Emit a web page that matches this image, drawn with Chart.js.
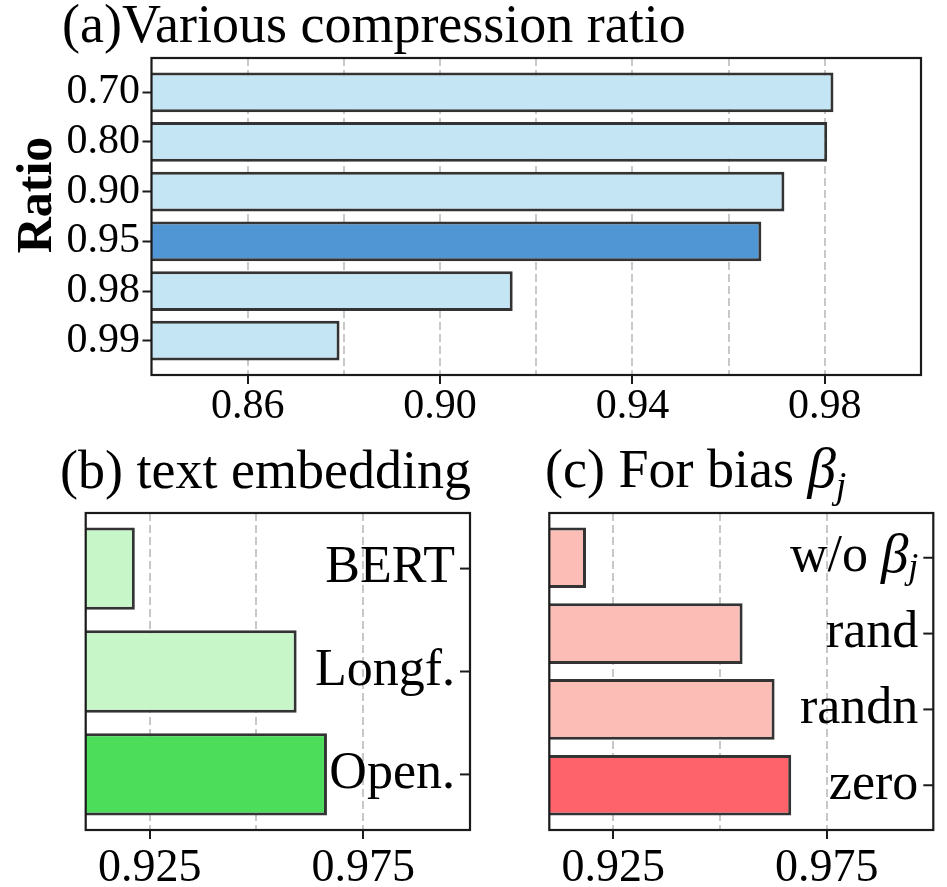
<!DOCTYPE html>
<html>
<head>
<meta charset="utf-8">
<script src="https://cdn.jsdelivr.net/npm/chart.js@4.4.0/dist/chart.umd.min.js"></script>
<style>
  html, body { margin: 0; padding: 0; background: #fff; }
  #page { position: relative; width: 947px; height: 887px; }
  .panel { position: absolute; }
</style>
</head>
<body>
<div id="page">
  <div class="panel" style="left:0;top:0"><canvas id="ratioChart" width="947" height="440"></canvas></div>
  <div class="panel" style="left:0;top:440px"><canvas id="embedChart" width="480" height="447"></canvas></div>
  <div class="panel" style="left:480px;top:440px"><canvas id="biasChart" width="467" height="447"></canvas></div>
</div>
<script>
// (a) compression ratio
const ratioLabels = ['0.70', '0.80', '0.90', '0.95', '0.98', '0.99'];
const ratioScores = [0.9818, 0.9805, 0.9716, 0.9668, 0.9151, 0.8791];
const ratioHighlight = '0.95';
const ratioGridTicks = [0.86, 0.88, 0.90, 0.92, 0.94, 0.96, 0.98];
const ratioLabelTicks = [0.86, 0.90, 0.94, 0.98];

// (b) text embedding
const embedLabels = ['BERT', 'Longf.', 'Open.'];
const embedScores = [0.9215, 0.9594, 0.9665];
const embedHighlight = 'Open.';

// (c) bias init
const biasLabels = ['w/o β_j', 'rand', 'randn', 'zero'];
const biasScores = [0.9186, 0.9553, 0.9628, 0.9667];
const biasHighlight = 'zero';

const ablGridTicks = [0.925, 0.95, 0.975];
const ablLabelTicks = [0.925, 0.975];

const SERIF = '"Liberation Serif", "Times New Roman", serif';
const INK = '#1a1a1a';

// split "β_j" style text into plain / italic / subscript pieces
function richParts(text, size) {
    const parts = [];
    let buf = '';
    const flush = () => { if (buf) parts.push({t: buf, f: size + 'px ' + SERIF, dy: 0}); buf = ''; };
    for (let i = 0; i < text.length; i++) {
        const ch = text[i];
        if (ch === 'β') {
            flush();
            parts.push({t: ch, f: 'italic ' + Math.round(size * 1.05) + 'px ' + SERIF, dy: 0});
        } else if (ch === '_') {
            flush();
            parts.push({t: text[i + 1], f: 'italic ' + Math.round(size * 0.7) + 'px ' + SERIF, dy: size * 0.2});
            i++;
        } else {
            buf += ch;
        }
    }
    flush();
    return parts;
}

function drawRich(ctx, text, size, x, y, align) {
    const parts = richParts(text, size);
    let total = 0;
    parts.forEach(p => { ctx.font = p.f; p.w = ctx.measureText(p.t).width; total += p.w; });
    let cx = align === 'right' ? x - total : x;
    ctx.textAlign = 'left';
    parts.forEach(p => { ctx.font = p.f; ctx.fillText(p.t, cx, y + p.dy); cx += p.w; });
}

const panelDecor = {
    id: 'panelDecor',
    afterDraw(chart, args, opts) {
        const {ctx, chartArea: a} = chart;
        ctx.save();
        ctx.fillStyle = '#000';
        ctx.textBaseline = 'alphabetic';
        drawRich(ctx, opts.title, 54, opts.titleX, opts.titleY, 'left');

        if (opts.yTitle) {
            ctx.save();
            ctx.translate(opts.yTitleX, opts.yTitleY);
            ctx.rotate(-Math.PI / 2);
            ctx.font = 'bold 50px ' + SERIF;
            ctx.textAlign = 'center';
            ctx.fillText(opts.yTitle, 0, 0);
            ctx.restore();
        }

        if (opts.sideLabels) {
            const ys = chart.scales.y;
            ctx.strokeStyle = INK;
            ctx.lineWidth = 2;
            ctx.textBaseline = 'middle';
            opts.sideLabels.forEach((lab, i) => {
                const py = ys.getPixelForValue(i);
                ctx.beginPath();
                ctx.moveTo(a.right - 10, py);
                ctx.lineTo(a.right, py);
                ctx.stroke();
                drawRich(ctx, lab, 52, a.right - 15, py, 'right');
            });
        }

        ctx.strokeStyle = INK;
        ctx.lineWidth = 2.2;
        ctx.strokeRect(a.left, a.top, a.right - a.left, a.bottom - a.top);
        ctx.restore();
    }
};

function barPanel(id, cfg) {
    const n = cfg.labels.length;
    const pad = 0.4 + 0.05 * (n - 0.2);
    const yScale = {
        type: 'linear',
        position: cfg.sideLabels ? 'right' : 'left',
        min: -pad,
        max: n - 1 + pad,
        reverse: true,
        offset: false,
        afterBuildTicks: s => { s.ticks = cfg.labels.map((_, i) => ({value: i})); },
        afterFit: s => { s.width = cfg.yAxisWidth; },
        border: {display: false},
        grid: {offset: false, drawOnChartArea: false, drawTicks: !cfg.sideLabels, tickLength: 9, tickWidth: 2, tickColor: INK},
        ticks: {
            display: !cfg.sideLabels,
            autoSkip: false,
            color: '#000',
            padding: 2.5,
            font: {family: SERIF, size: cfg.tickSize},
            callback: v => cfg.labels[v]
        }
    };
    return new Chart(document.getElementById(id), {
        type: 'bar',
        data: {
            datasets: [{
                data: cfg.labels.map((l, i) => ({x: cfg.scores[i], y: i})),
                backgroundColor: cfg.labels.map(l => l === cfg.highlight ? cfg.strong : cfg.soft),
                borderColor: '#333',
                borderWidth: 3,
                base: cfg.xMin,
                barPercentage: 0.8,
                categoryPercentage: 1
            }]
        },
        options: {
            indexAxis: 'y',
            responsive: false,
            animation: false,
            layout: {padding: cfg.padding},
            plugins: {
                legend: {display: false},
                tooltip: {enabled: false},
                panelDecor: {
                    title: cfg.title, titleX: cfg.titleX, titleY: cfg.titleY,
                    yTitle: cfg.yTitle, yTitleX: 51, yTitleY: 195,
                    sideLabels: cfg.sideLabels ? cfg.labels : null
                }
            },
            scales: {
                x: {
                    type: 'linear',
                    position: 'bottom',
                    min: cfg.xMin,
                    max: cfg.xMax,
                    z: 1,
                    afterBuildTicks: s => { s.ticks = cfg.gridTicks.map(v => ({value: v})); },
                    afterFit: s => { s.height = cfg.xAxisHeight; },
                    border: {display: false, dash: [8, 4]},
                    grid: {
                        color: 'rgba(190,190,190,0.85)',
                        lineWidth: 2,
                        tickLength: 9,
                        tickWidth: 2,
                        tickBorderDash: [],
                        tickColor: c => cfg.labelTicks.includes(c.tick.value) ? INK : 'rgba(0,0,0,0)'
                    },
                    ticks: {
                        autoSkip: false,
                        maxRotation: 0,
                        color: '#000',
                        padding: cfg.xPad,
                        font: {family: SERIF, size: cfg.xTickSize},
                        callback: v => cfg.labelTicks.includes(v) ? v.toFixed(cfg.digits) : ''
                    }
                },
                y: yScale
            }
        },
        plugins: [panelDecor]
    });
}

barPanel('ratioChart', {
    labels: ratioLabels, scores: ratioScores, highlight: ratioHighlight,
    soft: '#c3e5f4', strong: '#5096d4',
    xMin: 0.84, xMax: 1.0, gridTicks: ratioGridTicks, labelTicks: ratioLabelTicks, digits: 2,
    title: '(a)Various compression ratio', titleX: 62, titleY: 42,
    yTitle: 'Ratio',
    padding: {left: 0, top: 58, right: 26, bottom: 0},
    yAxisWidth: 151.5, xAxisHeight: 65, tickSize: 42, xTickSize: 42, xPad: -2
});

barPanel('embedChart', {
    labels: embedLabels, scores: embedScores, highlight: embedHighlight,
    soft: '#c7f6c9', strong: '#4cdd5b',
    xMin: 0.91, xMax: 1.0, gridTicks: ablGridTicks, labelTicks: ablLabelTicks, digits: 3,
    title: '(b) text embedding', titleX: 60, titleY: 48,
    sideLabels: true,
    padding: {left: 85.7, top: 73, right: 0, bottom: 0},
    yAxisWidth: 10, xAxisHeight: 57, tickSize: 52, xTickSize: 46, xPad: 2
});

barPanel('biasChart', {
    labels: biasLabels, scores: biasScores, highlight: biasHighlight,
    soft: '#fbbdb6', strong: '#fe636c',
    xMin: 0.91, xMax: 1.0, gridTicks: ablGridTicks, labelTicks: ablLabelTicks, digits: 3,
    title: '(c) For bias β_j', titleX: 65, titleY: 47,
    sideLabels: true,
    padding: {left: 69.3, top: 73, right: 0, bottom: 0},
    yAxisWidth: 13.7, xAxisHeight: 57, tickSize: 52, xTickSize: 46, xPad: 2
});
</script>
</body>
</html>
